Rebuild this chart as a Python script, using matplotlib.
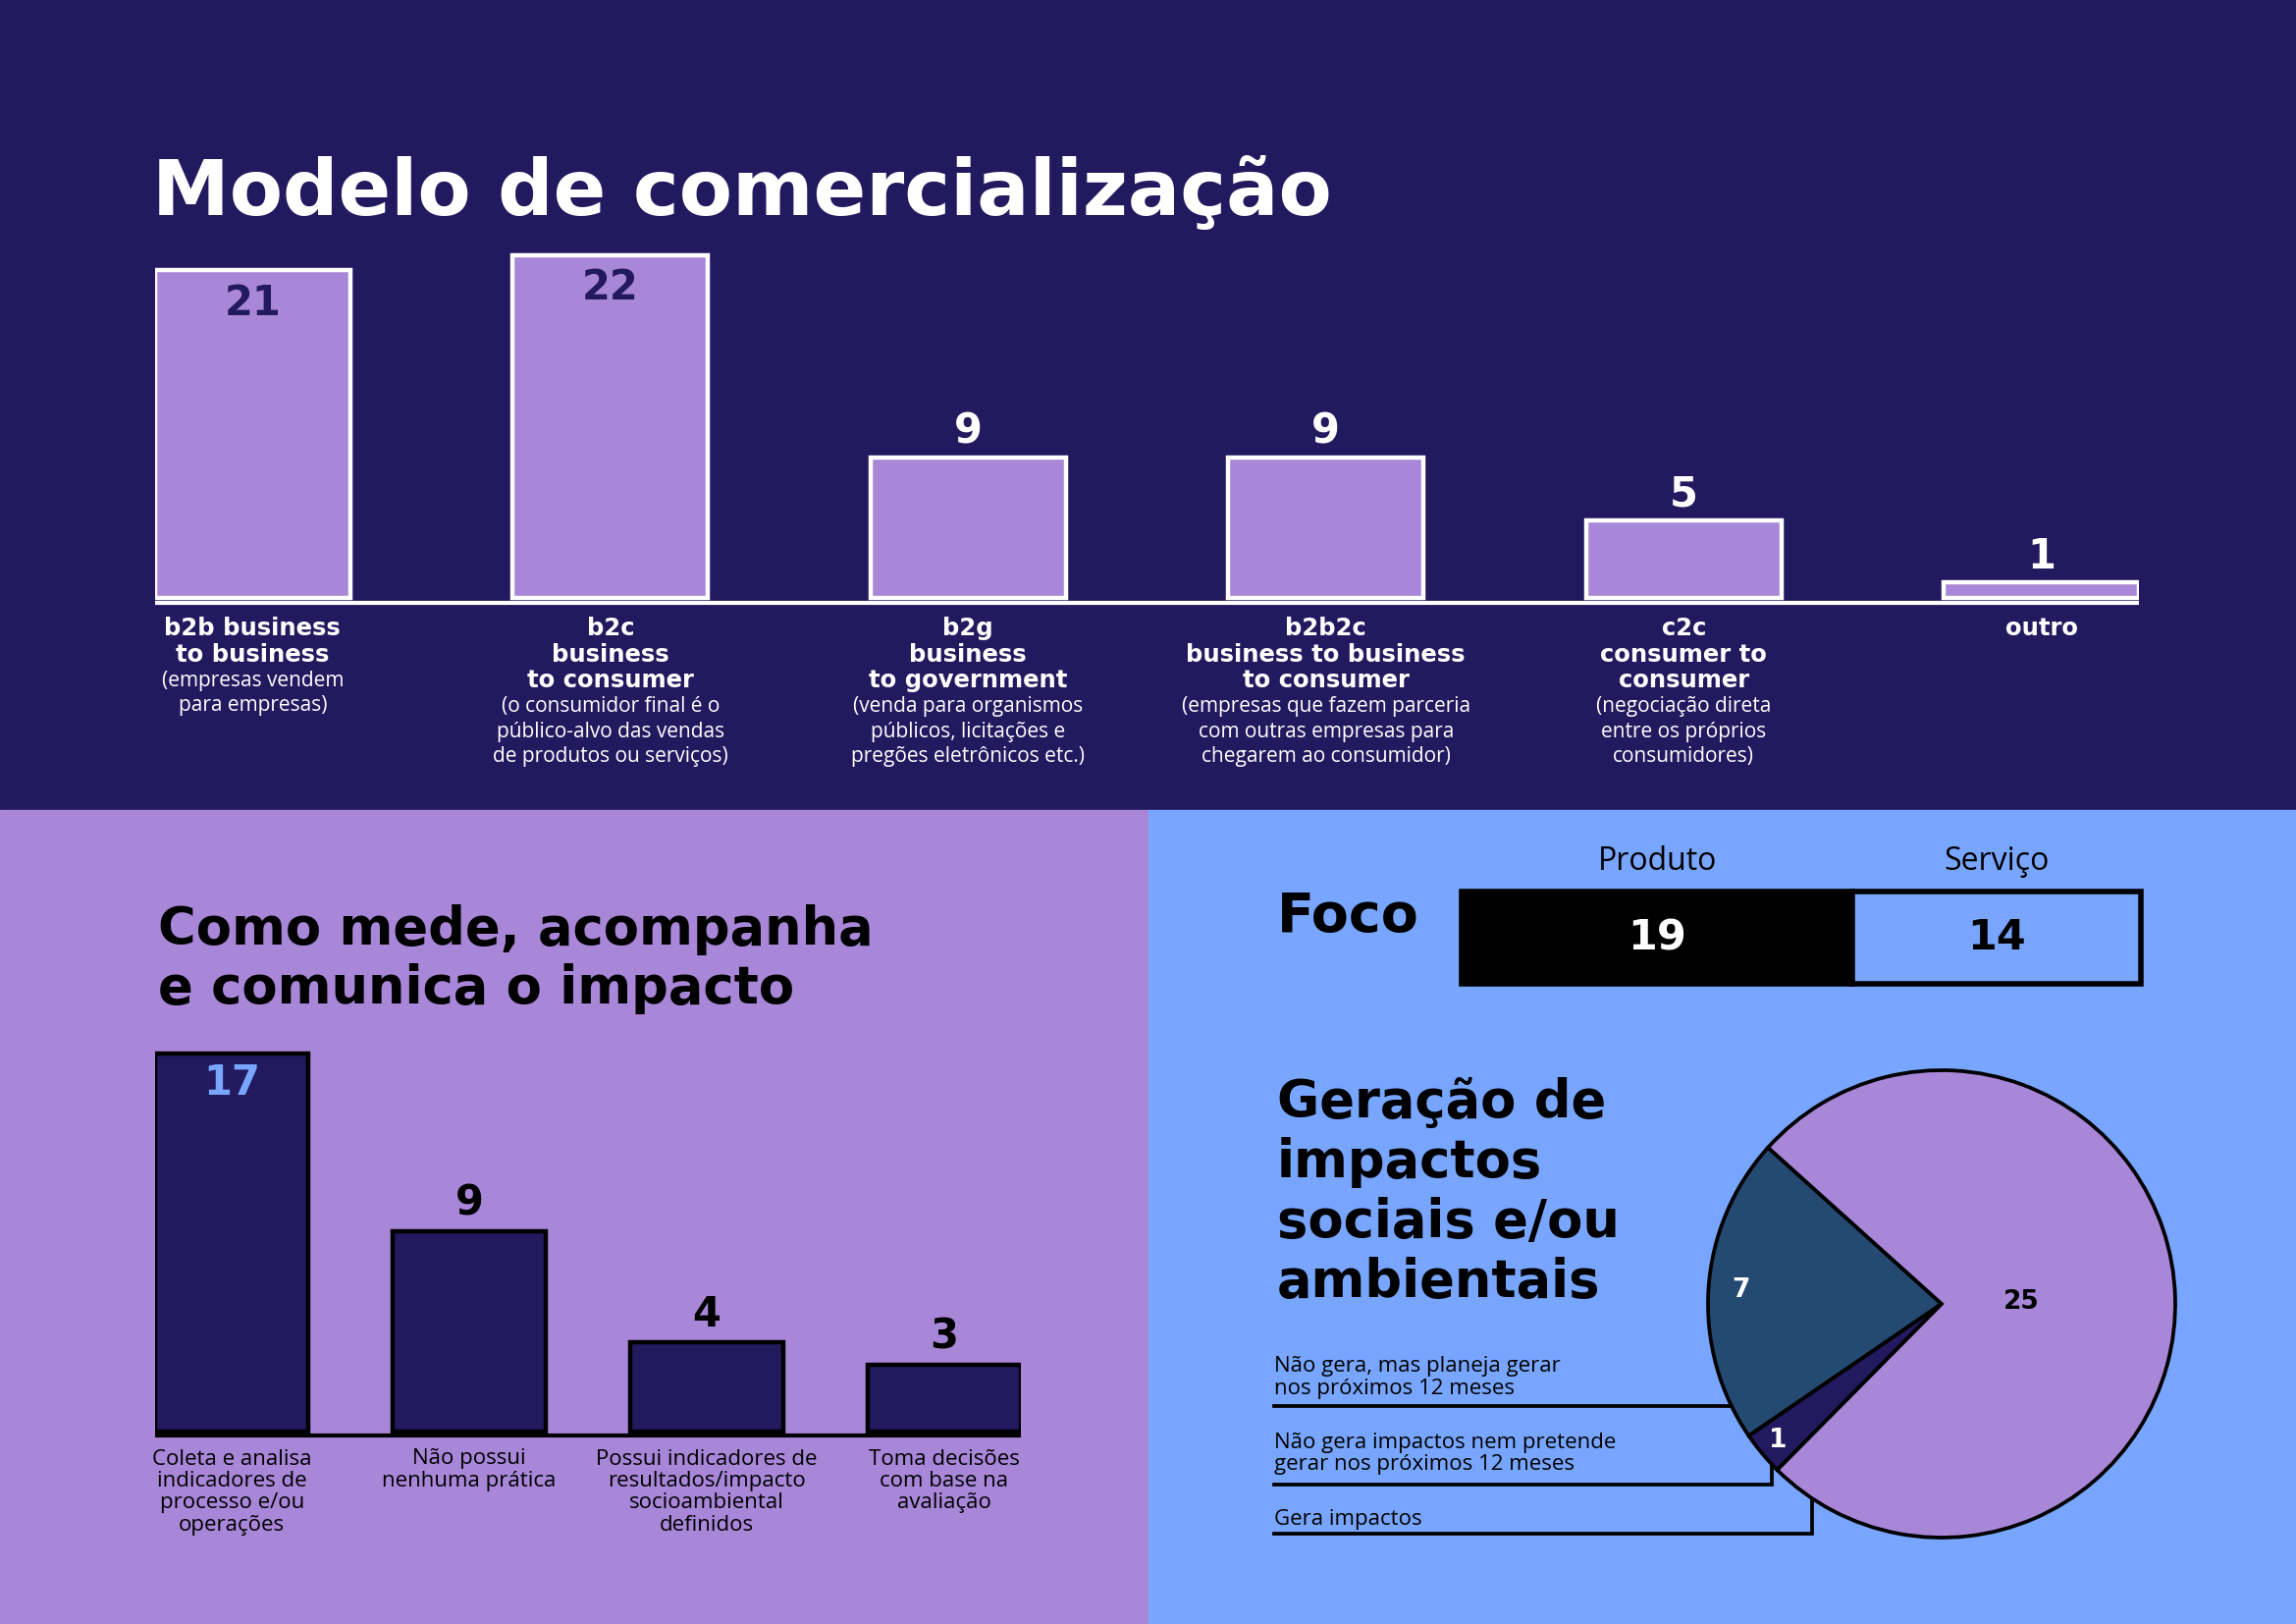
import numpy as np
import matplotlib.pyplot as plt
from matplotlib import transforms
from matplotlib.patches import Rectangle

W, H = 2339, 1654
NAVY = '#23195f'
LAVENDER = '#a886d8'
SKY = '#78a6ff'
TEAL = '#244a72'
INK = '#000000'
WHITE = '#ffffff'
HEAD = 'DejaVu Sans'
BODY = 'Open Sans'

# --- data ---
modelo_vals = [21, 22, 9, 9, 5, 1]
modelo_titles = [["b2b business", "to business"],
                 ["b2c", "business", "to consumer"],
                 ["b2g", "business", "to government"],
                 ["b2b2c", "business to business", "to consumer"],
                 ["c2c", "consumer to", "consumer"],
                 ["outro"]]
modelo_notes = [["(empresas vendem", "para empresas)"],
                ["(o consumidor final é o", "público-alvo das vendas", "de produtos ou serviços)"],
                ["(venda para organismos", "públicos, licitações e", "pregões eletrônicos etc.)"],
                ["(empresas que fazem parceria", "com outras empresas para", "chegarem ao consumidor)"],
                ["(negociação direta", "entre os próprios", "consumidores)"],
                []]

impacto_vals = [17, 9, 4, 3]
impacto_labels = ["Coleta e analisa\nindicadores de\nprocesso e/ou\noperações",
                  "Não possui\nnenhuma prática",
                  "Possui indicadores de\nresultados/impacto\nsocioambiental\ndefinidos",
                  "Toma decisões\ncom base na\navaliação"]

foco_labels = ["Produto", "Serviço"]
foco_vals = [19, 14]

geracao_labels = ["Não gera, mas planeja gerar\nnos próximos 12 meses",
                  "Não gera impactos nem pretende\ngerar nos próximos 12 meses",
                  "Gera impactos"]
geracao_vals = [7, 1, 25]


fig = plt.figure(figsize=(W / 100, H / 100), dpi=100)

# background axes in pixel coords (y down)
bg = fig.add_axes([0, 0, 1, 1])
bg.set_xlim(0, W)
bg.set_ylim(H, 0)
bg.axis('off')
bg.add_patch(Rectangle((0, 0), W, 825, color=NAVY, zorder=0))
bg.add_patch(Rectangle((0, 825), 1170, H - 825, color=LAVENDER, zorder=0))
bg.add_patch(Rectangle((1170, 825), W - 1170, H - 825, color=SKY, zorder=0))


def px_axes(x0, y0, x1, y1):
    ax = fig.add_axes([x0 / W, 1 - y1 / H, (x1 - x0) / W, (y1 - y0) / H])
    ax.axis('off')
    return ax


# ---------------- Modelo de comercialização ----------------
bg.text(155, 219, 'Modelo de comercialização', fontsize=57, fontweight='bold',
        family=HEAD, color=WHITE, va='baseline')

ax1 = px_axes(158, 223, 2179, 617)
x1 = np.arange(len(modelo_vals))
ax1.bar(x1, modelo_vals, width=0.545, color=LAVENDER, edgecolor=WHITE, linewidth=3.2)
ax1.set_xlim(-0.2725, 5.2725)
ax1.set_ylim(-0.5, 24.3)
ax1.plot([-0.2725, 5.2725], [-0.3, -0.3], color=WHITE, lw=3, solid_capstyle='butt')
for xi, v in zip(x1, modelo_vals):
    if v > 15:
        ax1.text(xi, v - 2.1, str(v), ha='center', va='center', fontsize=30,
                 fontweight='bold', family=HEAD, color=NAVY)
    else:
        ax1.text(xi, v + 1.65, str(v), ha='center', va='center', fontsize=30,
                 fontweight='bold', family=HEAD, color=WHITE)

tr1 = transforms.blended_transform_factory(ax1.transData, bg.transData)
for xi, titles, notes in zip(x1, modelo_titles, modelo_notes):
    y = 640
    for line in titles:
        bg.text(xi, y, line, transform=tr1, ha='center', va='center', fontsize=17.5,
                fontweight='bold', family=HEAD, color=WHITE)
        y += 26.6
    for line in notes:
        bg.text(xi, y, line, transform=tr1, ha='center', va='center', fontsize=15,
                family=BODY, color=WHITE)
        y += 25.5

# ---------------- Como mede ----------------
bg.text(161, 962, 'Como mede, acompanha', fontsize=38, fontweight='bold',
        family=HEAD, color=INK, va='baseline')
bg.text(161, 1022, 'e comunica o impacto', fontsize=38, fontweight='bold',
        family=HEAD, color=INK, va='baseline')

ax2 = px_axes(158, 1039, 1040, 1466)
x2 = np.arange(len(impacto_vals))
ax2.bar(x2, impacto_vals, width=0.647, color=NAVY, edgecolor=INK, linewidth=3.2)
ax2.set_xlim(-0.3235, 3.3235)
ax2.set_ylim(-0.375, 18.5)
ax2.plot([-0.3235, 3.3235], [-0.2, -0.2], color=INK, lw=3, solid_capstyle='butt')
for xi, v in zip(x2, impacto_vals):
    if v > 15:
        ax2.text(xi, v - 1.33, str(v), ha='center', va='center', fontsize=30,
                 fontweight='bold', family=HEAD, color=SKY)
    else:
        ax2.text(xi, v + 1.24, str(v), ha='center', va='center', fontsize=30,
                 fontweight='bold', family=HEAD, color=INK)

tr2 = transforms.blended_transform_factory(ax2.transData, bg.transData)
for xi, lab in zip(x2, impacto_labels):
    for k, line in enumerate(lab.split('\n')):
        bg.text(xi, 1486 + k * 22.4, line, transform=tr2, ha='center', va='center',
                fontsize=16, family=BODY, color=INK)

# ---------------- Foco ----------------
bg.text(1301, 949, 'Foco', fontsize=40, fontweight='bold', family=HEAD,
        color=INK, va='baseline')
ax3 = px_axes(1489, 908, 2181, 1002)
lefts = np.cumsum([0] + foco_vals[:-1])
ax3.barh(0, foco_vals, left=lefts, height=1, color=[INK, SKY], edgecolor=INK,
         linewidth=4, clip_on=False)
ax3.set_xlim(0, sum(foco_vals))
ax3.set_ylim(-0.5, 0.5)
tr3 = transforms.blended_transform_factory(ax3.transData, bg.transData)
for l, v, lab, c in zip(lefts, foco_vals, foco_labels, [WHITE, INK]):
    ax3.text(l + v / 2, 0, str(v), ha='center', va='center', fontsize=31,
             fontweight='bold', family=HEAD, color=c)
    bg.text(l + v / 2, 877, lab, transform=tr3, ha='center', va='center',
            fontsize=23, family=BODY, color=INK)

# ---------------- Geração de impactos ----------------
for k, line in enumerate(['Geração de', 'impactos', 'sociais e/ou', 'ambientais']):
    bg.text(1301, 1138 + k * 61, line, fontsize=38, fontweight='bold', family=HEAD,
            color=INK, va='baseline')

cx, cy, r = 1978, 1328, 238
ax4 = px_axes(cx - r, cy - r, cx + r, cy + r)
wedges, _ = ax4.pie(geracao_vals, colors=[TEAL, NAVY, LAVENDER], startangle=138,
                    counterclock=True, radius=1,
                    wedgeprops=dict(edgecolor=INK, linewidth=2.7))
ax4.set_xlim(-1, 1)
ax4.set_ylim(-1, 1)
for w, v, rf, c in zip(wedges, geracao_vals, [0.86, 0.91, 0.34], [WHITE, WHITE, INK]):
    a = np.deg2rad((w.theta1 + w.theta2) / 2)
    ax4.text(rf * np.cos(a), rf * np.sin(a), str(v), ha='center', va='center',
             fontsize=19, fontweight='bold', family=HEAD, color=c)

# legend text + leader lines
leg_y = [1392, 1469, 1547]
line_y = [1432, 1512, 1562]
line_x = [1768, 1805, 1846]
for lab, ty, ly, lx in zip(geracao_labels, leg_y, line_y, line_x):
    for k, line in enumerate(lab.split('\n')):
        bg.text(1298, ty + k * 22.5, line, ha='left', va='center', fontsize=16,
                family=BODY, color=INK)
    xs = [1298, lx]
    ys = [ly, ly]
    edge_y = cy + np.sqrt(r ** 2 - (lx - cx) ** 2)
    if edge_y < ly - 5:
        xs.append(lx)
        ys.append(edge_y)
    bg.plot(xs, ys, color=INK, lw=2.7, solid_joinstyle='miter', zorder=1)

fig.savefig('out.png', dpi=100)
